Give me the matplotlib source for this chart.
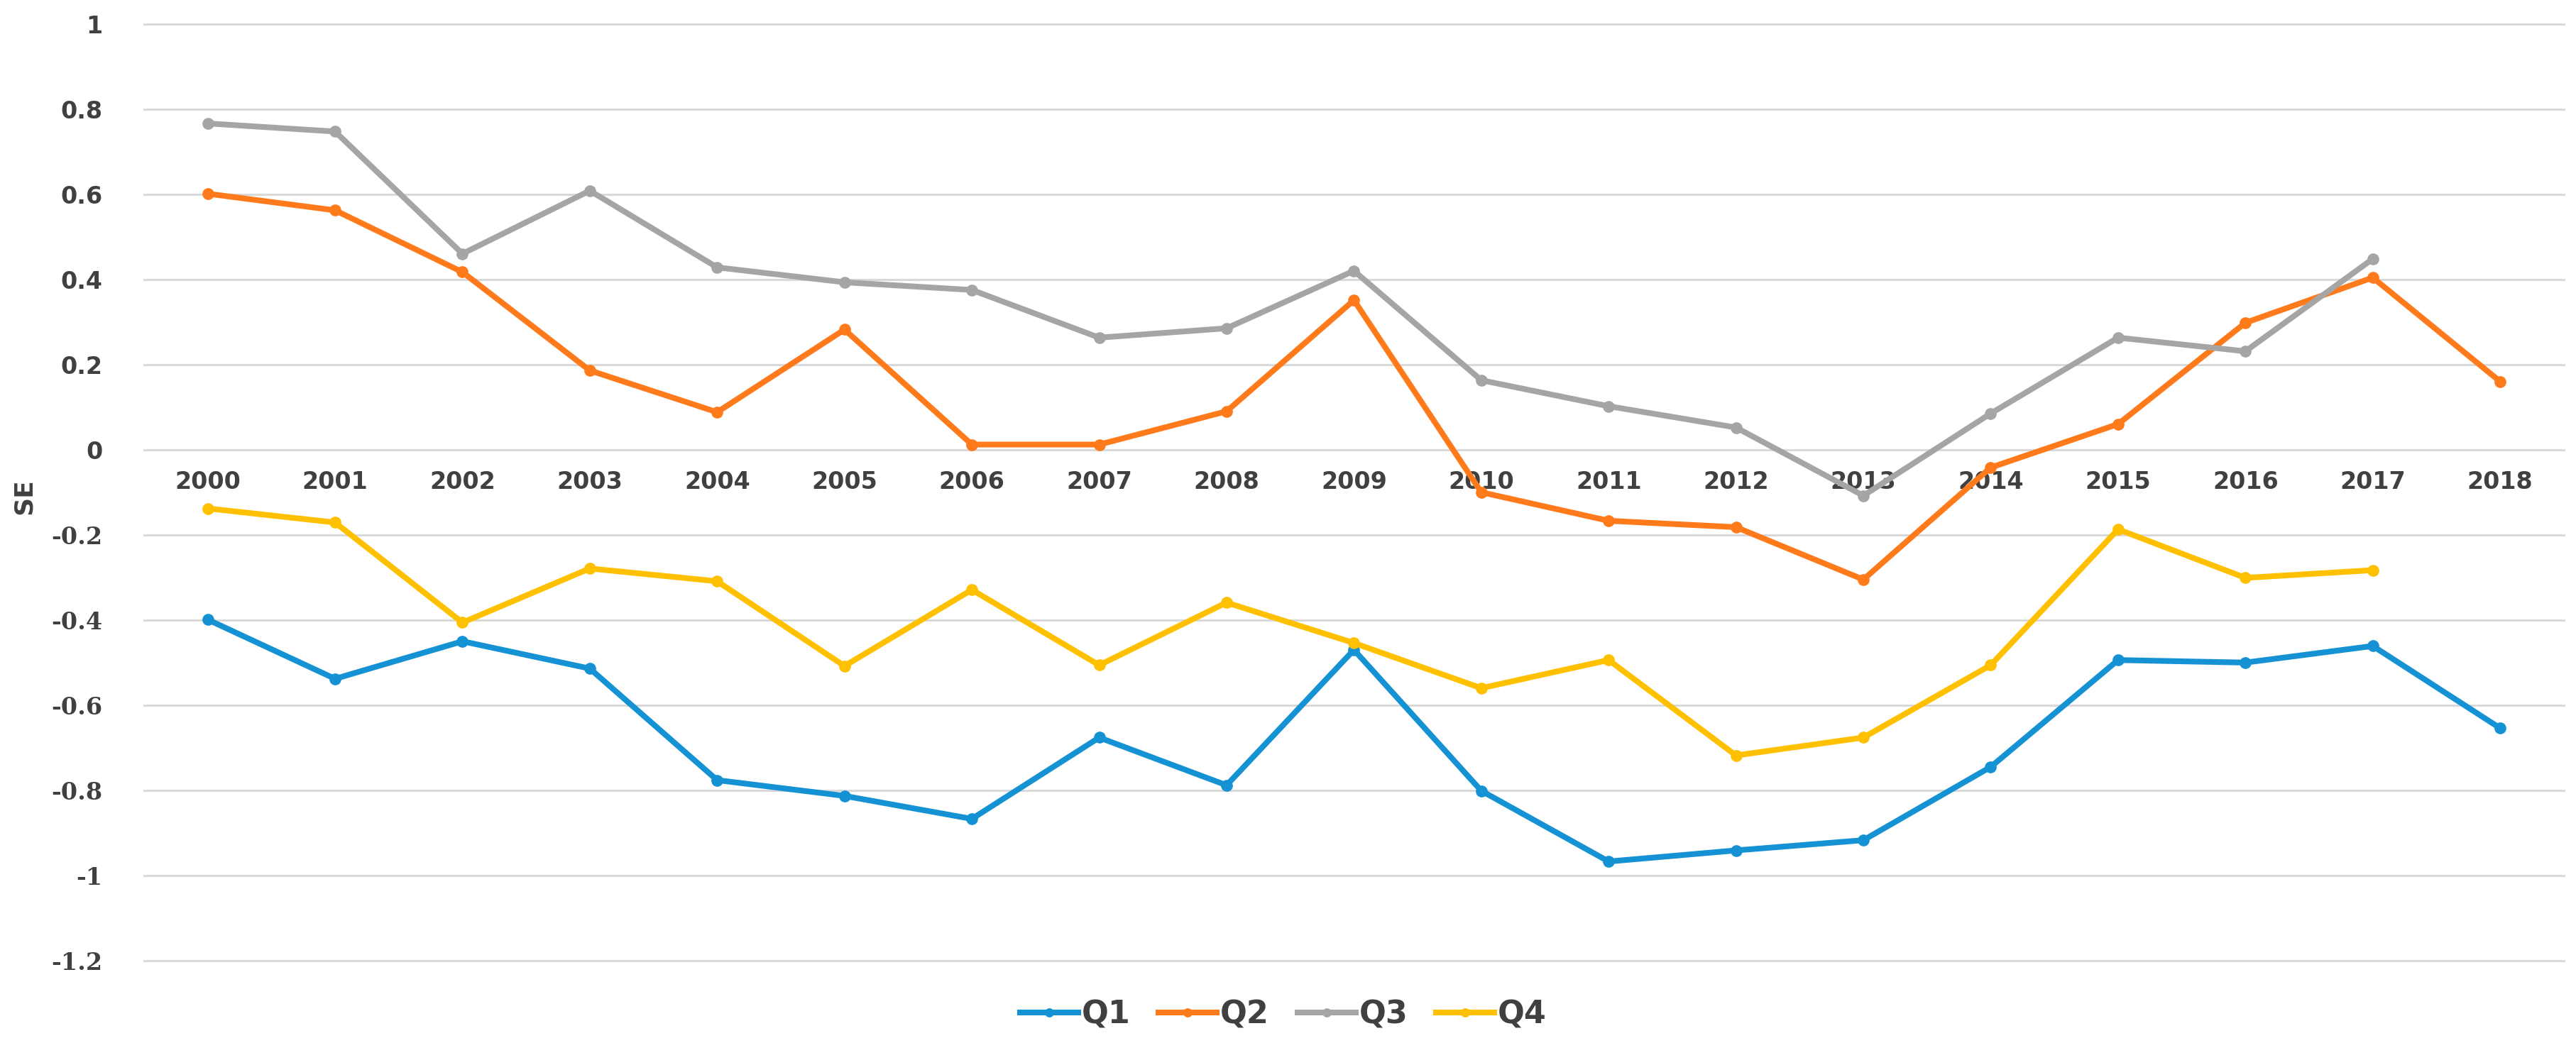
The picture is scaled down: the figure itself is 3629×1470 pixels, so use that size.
import numpy as np
import matplotlib
matplotlib.use("Agg")
import matplotlib.pyplot as plt

years = [str(y) for y in range(2000, 2019)]
q1 = [-0.399, -0.538, -0.450, -0.514, -0.776, -0.813, -0.867, -0.676, -0.788, -0.470,
      -0.801, -0.967, -0.941, -0.917, -0.745, -0.494, -0.500, -0.461, -0.654]
q2 = [0.601, 0.562, 0.417, 0.186, 0.088, 0.282, 0.012, 0.012, 0.090, 0.351,
      -0.100, -0.167, -0.182, -0.305, -0.042, 0.060, 0.298, 0.404, 0.160]
q3 = [0.766, 0.747, 0.460, 0.608, 0.428, 0.393, 0.375, 0.263, 0.285, 0.420,
      0.163, 0.102, 0.052, -0.108, 0.085, 0.263, 0.231, 0.448, np.nan]
q4 = [-0.138, -0.171, -0.406, -0.279, -0.309, -0.508, -0.329, -0.506, -0.359, -0.454,
      -0.560, -0.494, -0.718, -0.676, -0.506, -0.187, -0.301, -0.283, np.nan]
series_names = ["Q1", "Q2", "Q3", "Q4"]
series_colors = ["#1592D3", "#FF7A1A", "#A5A5A5", "#FFC000"]
yticks = [1, 0.8, 0.6, 0.4, 0.2, 0, -0.2, -0.4, -0.6, -0.8, -1, -1.2]
ytick_labels = ["1", "0.8", "0.6", "0.4", "0.2", "0", "-0.2", "-0.4", "-0.6", "-0.8", "-1", "-1.2"]

txt = "#404040"
fig = plt.figure(figsize=(36.3, 14.7), dpi=100)
ax = fig.add_axes([0.0559, 0.0789, 0.9391, 0.8983])
x = np.arange(len(years))

for name, vals, col in zip(series_names, [q1, q2, q3, q4], series_colors):
    ax.plot(x, vals, color=col, lw=5.8, marker="o", ms=11, label=name, zorder=3,
            solid_joinstyle="round")

ax.set_xlim(-0.5, len(years) - 0.5)
ax.set_ylim(-1.2, 1.0)
ax.set_yticks(yticks)
ax.set_yticklabels(ytick_labels)
ax.yaxis.grid(True, color="#D9D9D9", lw=2.2, zorder=0)
for gl in ax.get_ygridlines():
    gl.set_clip_on(False)
ax.set_axisbelow(True)
for s in ax.spines.values():
    s.set_visible(False)
ax.set_xticks([])
ax.tick_params(axis="y", length=0, pad=42, labelsize=24, labelcolor=txt)
for lab in ax.get_yticklabels():
    lab.set_fontweight("bold")
    if lab.get_text().startswith("-"):
        lab.set_family("DejaVu Serif")
    else:
        lab.set_family("DejaVu Sans")

for i, yr in enumerate(years):
    ax.annotate(yr, xy=(i, 0), xytext=(0, -33), textcoords="offset points",
                ha="center", va="center", fontsize=24, fontweight="bold",
                color=txt, zorder=1.5)

fig.text(0.0094, 0.524, "SE", rotation=90, ha="center", va="center",
         fontsize=26, fontweight="bold", color=txt)

leg = fig.legend(loc="center", bbox_to_anchor=(0.498, 0.027), ncol=4, frameon=False,
                 fontsize=32, handlelength=1.85, handletextpad=0.1, columnspacing=0.9,
                 markerscale=0.75)
for t in leg.get_texts():
    t.set_fontweight("bold")
    t.set_color(txt)

fig.savefig("out.png", dpi=100, facecolor="white")
